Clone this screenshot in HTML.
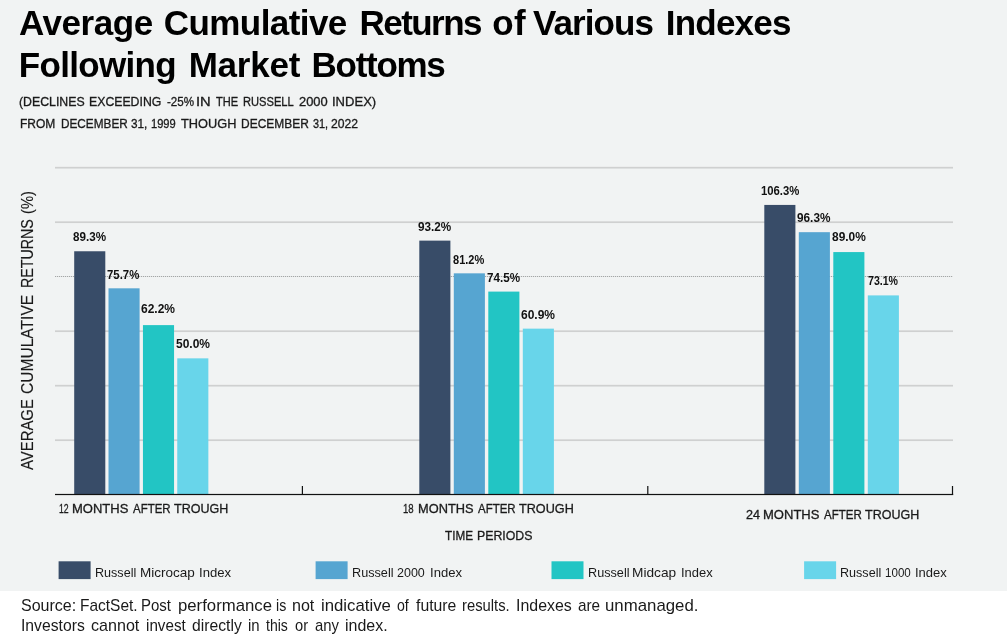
<!DOCTYPE html>
<html>
<head>
<meta charset="utf-8">
<title>Average Cumulative Returns of Various Indexes Following Market Bottoms</title>
<style>
html,body{margin:0;padding:0;}
body{width:1007px;height:639px;position:relative;overflow:hidden;background:#fff;font-family:"Liberation Sans",sans-serif;color:#000;}
#panel{position:absolute;left:0;top:0;width:1007px;height:590.5px;background:#f1f3f3;}
.ln{position:absolute;left:0;white-space:nowrap;line-height:1;}
.ln span{position:absolute;top:0;white-space:nowrap;transform-origin:0 0;}
</style>
</head>
<body>
<div id="panel"></div>

<svg id="chart" width="1007" height="639" viewBox="0 0 1007 639" style="position:absolute;left:0;top:0;">
<rect x="55" y="166.85" width="898" height="1.7" fill="#cfd0d0"/>
<rect x="55" y="221.35" width="898" height="1.7" fill="#cfd0d0"/>
<rect x="55" y="276" width="898" height="1" fill="#e1e3e3"/>
<line x1="55" x2="953" y1="276.5" y2="276.5" stroke="#a4a6a6" stroke-width="1" stroke-dasharray="1 1"/>
<rect x="55" y="330.35" width="898" height="1.7" fill="#cfd0d0"/>
<rect x="55" y="384.85" width="898" height="1.7" fill="#cfd0d0"/>
<rect x="55" y="439.35" width="898" height="1.7" fill="#cfd0d0"/>
<rect x="74.20" y="251.26" width="31.1" height="243.34" fill="#384c68"/>
<rect x="108.50" y="288.32" width="31.1" height="206.28" fill="#56a5d1"/>
<rect x="142.95" y="325.11" width="31.1" height="169.50" fill="#22c5c4"/>
<rect x="177.25" y="358.35" width="31.1" height="136.25" fill="#68d5ea"/>
<rect x="419.30" y="240.63" width="31.1" height="253.97" fill="#384c68"/>
<rect x="453.80" y="273.33" width="31.1" height="221.27" fill="#56a5d1"/>
<rect x="488.30" y="291.59" width="31.1" height="203.01" fill="#22c5c4"/>
<rect x="522.80" y="328.65" width="31.1" height="165.95" fill="#68d5ea"/>
<rect x="764.30" y="204.93" width="31.1" height="289.67" fill="#384c68"/>
<rect x="798.80" y="232.18" width="31.1" height="262.42" fill="#56a5d1"/>
<rect x="833.30" y="252.08" width="31.1" height="242.53" fill="#22c5c4"/>
<rect x="867.80" y="295.40" width="31.1" height="199.20" fill="#68d5ea"/>
<rect x="55" y="493.9" width="898.2" height="1.2" fill="#111"/>
<rect x="301.8" y="486" width="1.2" height="8.5" fill="#111"/>
<rect x="647.2" y="486" width="1.2" height="8.5" fill="#111"/>
<rect x="951.9" y="486" width="1.2" height="8.5" fill="#111"/>
<rect x="58.6" y="561.3" width="32" height="17.8" fill="#384c68"/>
<rect x="315.6" y="561.3" width="32" height="17.8" fill="#56a5d1"/>
<rect x="551.5" y="561.3" width="32" height="17.8" fill="#22c5c4"/>
<rect x="804.1" y="561.3" width="32" height="17.8" fill="#68d5ea"/>
</svg>

<div class="ln" style="top:4.70px;font-size:35px;font-weight:bold;color:#000;"><span style="left:19.00px;letter-spacing:-0.429px;">Average</span><span style="left:163.80px;letter-spacing:-0.577px;">Cumulative</span><span style="left:359.50px;letter-spacing:-1.546px;">Returns</span><span style="left:492.30px;letter-spacing:0.321px;">of</span><span style="left:533.00px;letter-spacing:-0.914px;">Various</span><span style="left:665.70px;letter-spacing:-0.763px;">Indexes</span></div>
<div class="ln" style="top:46.80px;font-size:35px;font-weight:bold;color:#000;"><span style="left:18.80px;letter-spacing:-0.689px;">Following</span><span style="left:188.70px;letter-spacing:-0.234px;">Market</span><span style="left:311.60px;letter-spacing:-1.294px;">Bottoms</span></div>
<div class="ln" style="top:96.20px;font-size:12.1px;color:#1a1a1a;-webkit-text-stroke:0.3px #1a1a1a;"><span style="left:19.40px;transform:scaleX(1.0179);">(DECLINES</span><span style="left:89.40px;transform:scaleX(1.0152);">EXCEEDING</span><span style="left:167.00px;transform:scaleX(0.9586);">-25%</span><span style="left:196.48px;transform:scaleX(1.2162);">IN</span><span style="left:215.90px;transform:scaleX(0.9162);">THE</span><span style="left:243.30px;transform:scaleX(0.9207);">RUSSELL</span><span style="left:299.00px;transform:scaleX(1.0670);">2000</span><span style="left:331.62px;transform:scaleX(1.0786);">INDEX)</span></div>
<div class="ln" style="top:118.20px;font-size:12.1px;color:#1a1a1a;-webkit-text-stroke:0.3px #1a1a1a;"><span style="left:20.00px;transform:scaleX(0.9936);">FROM</span><span style="left:60.60px;transform:scaleX(0.9737);">DECEMBER</span><span style="left:131.00px;transform:scaleX(0.9725);">31,</span><span style="left:151.40px;transform:scaleX(0.9199);">1999</span><span style="left:180.80px;transform:scaleX(1.0567);">THOUGH</span><span style="left:240.70px;transform:scaleX(0.9897);">DECEMBER</span><span style="left:313.20px;transform:scaleX(0.8996);">31,</span><span style="left:331.00px;transform:scaleX(1.0045);">2022</span></div>
<div class="ln" style="top:231.30px;font-size:12.8px;font-weight:bold;color:#111;"><span style="left:72.80px;transform:scaleX(0.9104);">89.3%</span></div>
<div class="ln" style="top:268.70px;font-size:12.8px;font-weight:bold;color:#111;"><span style="left:107.40px;transform:scaleX(0.8887);">75.7%</span></div>
<div class="ln" style="top:303.30px;font-size:12.8px;font-weight:bold;color:#111;"><span style="left:141.40px;transform:scaleX(0.9375);">62.2%</span></div>
<div class="ln" style="top:338.40px;font-size:12.8px;font-weight:bold;color:#111;"><span style="left:176.00px;transform:scaleX(0.9375);">50.0%</span></div>
<div class="ln" style="top:220.80px;font-size:12.8px;font-weight:bold;color:#111;"><span style="left:418.00px;transform:scaleX(0.9158);">93.2%</span></div>
<div class="ln" style="top:253.70px;font-size:12.8px;font-weight:bold;color:#111;"><span style="left:453.00px;transform:scaleX(0.8616);">81.2%</span></div>
<div class="ln" style="top:271.70px;font-size:12.8px;font-weight:bold;color:#111;"><span style="left:487.00px;transform:scaleX(0.9104);">74.5%</span></div>
<div class="ln" style="top:309.30px;font-size:12.8px;font-weight:bold;color:#111;"><span style="left:521.00px;transform:scaleX(0.9375);">60.9%</span></div>
<div class="ln" style="top:185.00px;font-size:12.8px;font-weight:bold;color:#111;"><span style="left:760.80px;transform:scaleX(0.8836);">106.3%</span></div>
<div class="ln" style="top:211.80px;font-size:12.8px;font-weight:bold;color:#111;"><span style="left:797.40px;transform:scaleX(0.9212);">96.3%</span></div>
<div class="ln" style="top:230.80px;font-size:12.8px;font-weight:bold;color:#111;"><span style="left:831.60px;transform:scaleX(0.9321);">89.0%</span></div>
<div class="ln" style="top:275.30px;font-size:12.8px;font-weight:bold;color:#111;"><span style="left:868.10px;transform:scaleX(0.8264);">73.1%</span></div>
<div class="ln" style="top:503.00px;font-size:12.6px;color:#1a1a1a;-webkit-text-stroke:0.3px #1a1a1a;"><span style="left:58.90px;transform:scaleX(0.6927);">12</span><span style="left:72.17px;transform:scaleX(1.0326);">MONTHS</span><span style="left:133.00px;transform:scaleX(0.9105);">AFTER</span><span style="left:173.70px;transform:scaleX(0.9950);">TROUGH</span></div>
<div class="ln" style="top:503.10px;font-size:12.6px;color:#1a1a1a;-webkit-text-stroke:0.3px #1a1a1a;"><span style="left:403.40px;transform:scaleX(0.7641);">18</span><span style="left:417.98px;transform:scaleX(1.0175);">MONTHS</span><span style="left:478.00px;transform:scaleX(0.9105);">AFTER</span><span style="left:518.70px;transform:scaleX(1.0041);">TROUGH</span></div>
<div class="ln" style="top:509.10px;font-size:12.6px;color:#1a1a1a;-webkit-text-stroke:0.3px #1a1a1a;"><span style="left:745.50px;transform:scaleX(0.9997);">24</span><span style="left:763.27px;transform:scaleX(1.0344);">MONTHS</span><span style="left:823.80px;transform:scaleX(0.9129);">AFTER</span><span style="left:864.90px;transform:scaleX(0.9931);">TROUGH</span></div>
<div class="ln" style="top:529.60px;font-size:12.6px;color:#1a1a1a;-webkit-text-stroke:0.3px #1a1a1a;"><span style="left:445.00px;transform:scaleX(0.9298);">TIME</span><span style="left:477.02px;transform:scaleX(0.9786);">PERIODS</span></div>
<div class="ln" style="top:566.90px;font-size:12.8px;color:#1a1a1a;"><span style="left:95.42px;transform:scaleX(0.9822);">Russell</span><span style="left:140.14px;transform:scaleX(1.0552);">Microcap</span><span style="left:199.07px;transform:scaleX(1.0257);">Index</span></div>
<div class="ln" style="top:566.90px;font-size:12.8px;color:#1a1a1a;"><span style="left:351.81px;transform:scaleX(0.9896);">Russell</span><span style="left:397.00px;transform:scaleX(0.9770);">2000</span><span style="left:429.58px;transform:scaleX(1.0224);">Index</span></div>
<div class="ln" style="top:566.90px;font-size:12.8px;color:#1a1a1a;"><span style="left:587.81px;transform:scaleX(0.9896);">Russell</span><span style="left:632.23px;transform:scaleX(1.0689);">Midcap</span><span style="left:680.59px;transform:scaleX(1.0127);">Index</span></div>
<div class="ln" style="top:566.90px;font-size:12.8px;color:#1a1a1a;"><span style="left:840.02px;transform:scaleX(0.9822);">Russell</span><span style="left:885.00px;transform:scaleX(0.9065);">1000</span><span style="left:915.08px;transform:scaleX(1.0160);">Index</span></div>
<div class="ln" style="top:598.30px;font-size:15.9px;color:#1a1a1a;"><span style="left:21.20px;transform:scaleX(1.0085);">Source:</span><span style="left:79.83px;transform:scaleX(0.9743);">FactSet.</span><span style="left:141.36px;transform:scaleX(0.9432);">Post</span><span style="left:177.55px;transform:scaleX(1.0535);">performance</span><span style="left:276.31px;transform:scaleX(0.8927);">is</span><span style="left:292.29px;transform:scaleX(1.0104);">not</span><span style="left:320.85px;transform:scaleX(1.0549);">indicative</span><span style="left:397.10px;transform:scaleX(0.8889);">of</span><span style="left:416.10px;transform:scaleX(0.9927);">future</span><span style="left:461.67px;transform:scaleX(0.9303);">results.</span><span style="left:515.60px;transform:scaleX(1.0016);">Indexes</span><span style="left:577.50px;transform:scaleX(0.9641);">are</span><span style="left:604.94px;transform:scaleX(1.0577);">unmanaged.</span></div>
<div class="ln" style="top:618.10px;font-size:15.9px;color:#1a1a1a;"><span style="left:20.71px;transform:scaleX(0.9886);">Investors</span><span style="left:90.70px;transform:scaleX(1.0125);">cannot</span><span style="left:146.04px;transform:scaleX(0.9563);">invest</span><span style="left:192.40px;transform:scaleX(0.9883);">directly</span><span style="left:248.46px;transform:scaleX(0.9401);">in</span><span style="left:266.00px;transform:scaleX(0.8837);">this</span><span style="left:295.30px;transform:scaleX(0.9233);">or</span><span style="left:315.20px;transform:scaleX(0.9348);">any</span><span style="left:345.19px;transform:scaleX(1.0053);">index.</span></div>
<div class="ln" id="ylab" style="left:32.9px;top:469.6px;font-size:16.3px;color:#1a1a1a;-webkit-text-stroke:0.15px #1a1a1a;transform:rotate(-90deg);transform-origin:0 0;"><div class="ln" style="left:0;top:-14.00px;"><span style="left:0.00px;transform:scaleX(0.9144);">AVERAGE</span><span style="left:76.40px;transform:scaleX(0.9560);">CUMULATIVE</span><span style="left:181.83px;transform:scaleX(0.8749);">RETURNS</span><span style="left:255.70px;transform:scaleX(0.9038);">(%)</span></div></div>
</body>
</html>
